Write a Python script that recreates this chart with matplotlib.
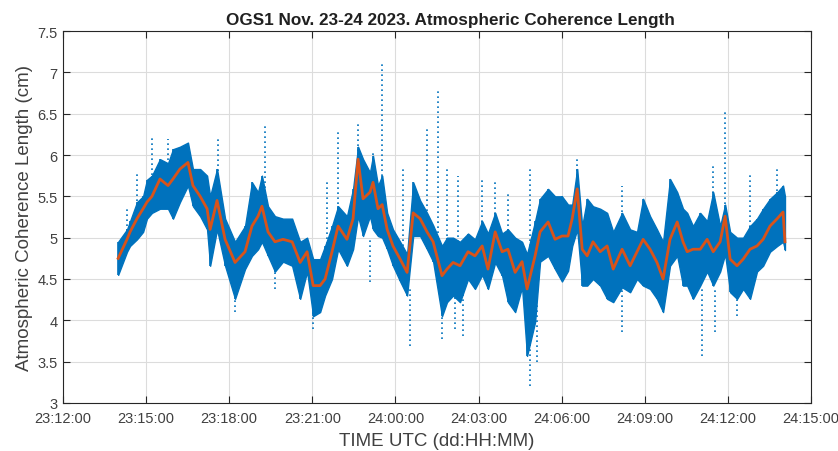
import matplotlib
matplotlib.use("Agg")
from matplotlib import pyplot as plt
from matplotlib.ticker import FuncFormatter, MultipleLocator
import numpy as np

# hours since 23 Nov 12:00 UTC
t_hr = [1.99, 2.31, 2.42, 2.67, 2.89, 3.03, 3.21, 3.50, 3.79, 3.97, 4.22, 4.51, 4.69, 4.95,
        5.20, 5.31, 5.56, 5.85, 6.21, 6.57, 6.82, 7.04, 7.18, 7.40, 7.65, 7.94, 8.27, 8.56,
        8.81, 9.03, 9.28, 9.46, 9.71, 9.93, 10.25, 10.47, 10.65, 10.83, 11.08, 11.19, 11.37,
        11.52, 11.70, 11.91, 12.17, 12.42, 12.64, 12.89, 13.14, 13.36, 13.68, 13.86, 14.08,
        14.33, 14.62, 14.87, 15.13, 15.34, 15.60, 15.85, 16.06, 16.32, 16.57, 16.75, 17.04,
        17.22, 17.51, 17.76, 18.01, 18.23, 18.38, 18.56, 18.74, 18.92, 19.13, 19.39, 19.64,
        19.86, 20.18, 20.47, 20.72, 20.94, 21.19, 21.44, 21.66, 21.91, 22.17, 22.38, 22.53,
        22.74, 23.00, 23.25, 23.47, 23.72, 23.90, 24.08, 24.33, 24.55, 24.80, 25.05, 25.27,
        25.52, 25.78, 25.99, 26.06]

# smoothed coherence length (orange)
r0_smooth = [4.75, 4.98, 5.07, 5.23, 5.35, 5.43, 5.50, 5.71, 5.63, 5.71, 5.83, 5.91, 5.63, 5.50,
             5.35, 5.10, 5.45, 4.98, 4.70, 4.83, 5.14, 5.26, 5.38, 5.07, 4.95, 4.98, 4.95, 4.70,
             4.83, 4.42, 4.42, 4.50, 4.83, 5.14, 4.98, 5.23, 5.95, 5.47, 5.55, 5.67, 5.35,
             5.40, 5.10, 4.90, 4.74, 4.58, 5.30, 5.23, 5.07, 4.95, 4.54, 4.62, 4.70,
             4.66, 4.83, 4.78, 4.90, 4.62, 5.07, 4.83, 4.86, 4.58, 4.71, 4.38, 4.78,
             5.07, 5.19, 4.98, 5.02, 5.02, 5.23, 5.59, 4.86, 4.78, 4.95, 4.83, 4.90,
             4.62, 4.86, 4.66, 4.83, 4.98, 4.86, 4.70, 4.50, 4.98, 5.19, 4.95, 4.83,
             4.86, 4.86, 4.98, 4.83, 4.95, 5.26, 4.74, 4.66, 4.74, 4.86, 4.90, 4.98,
             5.14, 5.23, 5.31, 4.95]

# raw samples: upper / lower envelope (blue)
r0_high = [4.95, 5.10, 5.20, 5.43, 5.50, 5.70, 5.75, 5.95, 5.90, 6.07, 6.10, 6.15, 5.83, 5.83,
           5.75, 5.50, 5.83, 5.23, 4.95, 5.14, 5.67, 5.55, 5.75, 5.38, 5.26, 5.23, 5.23, 4.95,
           5.00, 4.74, 4.74, 4.90, 5.14, 5.38, 5.26, 5.59, 6.10, 5.95, 5.79, 5.99, 5.63,
           5.75, 5.30, 5.10, 4.95, 4.80, 5.67, 5.45, 5.30, 5.15, 4.90, 5.00, 5.00,
           4.95, 5.05, 4.98, 5.20, 5.05, 5.30, 5.05, 5.10, 5.00, 4.95, 4.80, 5.20,
           5.47, 5.59, 5.50, 5.50, 5.40, 5.40, 5.83, 5.14, 5.47, 5.38, 5.35, 5.30,
           5.07, 5.30, 5.10, 5.07, 5.47, 5.26, 5.10, 4.95, 5.71, 5.55, 5.35, 5.30,
           5.14, 5.30, 5.20, 5.55, 5.14, 5.40, 5.07, 5.00, 5.00, 5.14, 5.23, 5.35,
           5.47, 5.55, 5.63, 5.50]
r0_low = [4.55, 4.83, 4.90, 4.98, 5.07, 5.23, 5.30, 5.35, 5.35, 5.23, 5.43, 5.63, 5.38, 5.26,
          5.10, 4.66, 5.10, 4.66, 4.26, 4.62, 4.78, 4.86, 4.95, 4.78, 4.59, 4.71, 4.66, 4.26,
          4.59, 4.05, 4.10, 4.30, 4.50, 4.86, 4.66, 4.86, 5.26, 5.02, 5.26, 5.10, 5.02,
          5.00, 4.86, 4.66, 4.47, 4.30, 5.02, 5.02, 4.86, 4.71, 4.05, 4.22, 4.30,
          4.22, 4.50, 4.38, 4.55, 4.38, 4.70, 4.54, 4.22, 4.10, 4.40, 3.57, 3.98,
          4.71, 4.78, 4.62, 4.47, 4.60, 4.90, 5.10, 4.42, 4.42, 4.50, 4.42, 4.26,
          4.22, 4.40, 4.34, 4.50, 4.42, 4.38, 4.26, 4.10, 4.66, 4.78, 4.42, 4.42,
          4.26, 4.42, 4.59, 4.42, 4.59, 4.80, 4.34, 4.26, 4.38, 4.26, 4.59, 4.66,
          4.83, 4.90, 4.95, 4.85]

# isolated outlier runs (time, low end, high end)
spike_t = [2.31, 2.67, 3.21, 3.79, 5.60, 6.21, 7.29, 7.65, 9.03, 9.53, 9.93, 10.65, 11.08,
           11.19, 11.52, 12.27, 12.53, 13.14, 13.54, 13.68, 13.86, 14.15, 14.26, 14.44,
           15.13, 15.60, 16.06, 16.86, 17.10, 18.56, 20.18, 21.95, 23.07, 23.47, 23.55,
           23.90, 24.33, 24.80, 25.78]
spike_lo = [4.90, 5.20, 5.40, 5.40, 5.20, 4.10, 5.30, 4.38, 3.90, 4.80, 5.10, 5.50, 4.46,
            5.40, 5.20, 4.90, 3.69, 4.90, 5.00, 3.77, 4.90, 3.90, 4.70, 3.81,
            4.70, 4.80, 4.60, 3.21, 3.50, 5.20, 3.86, 5.00, 3.57, 5.00, 3.86,
            4.80, 4.05, 4.70, 5.20]
spike_hi = [5.37, 5.80, 6.20, 6.19, 6.20, 4.70, 6.35, 4.80, 4.40, 5.71, 6.28, 6.41, 5.00,
            6.04, 7.12, 5.87, 4.40, 6.35, 6.78, 4.40, 5.87, 4.40, 5.75, 4.50,
            5.71, 5.67, 5.55, 5.83, 4.20, 5.95, 5.63, 5.71, 4.40, 5.87, 4.40,
            6.52, 4.40, 5.79, 5.87]

blue = "#0072BD"
orange = "#D95319"
ink = "#404040"

plt.rcParams["font.family"] = ["Liberation Sans", "DejaVu Sans"]

fig = plt.figure(figsize=(8.38, 4.52), dpi=100)
ax = fig.add_axes([0.0752, 0.1062, 0.8926, 0.8230])

ax.fill_between(t_hr, r0_low, r0_high, color=blue, lw=1.0, zorder=2)
ax.vlines(t_hr, r0_low, r0_high, color=blue, lw=1.2, zorder=2)
ax.vlines(spike_t, spike_lo, spike_hi, color=blue, lw=1.2, linestyles=(0, (1, 2)), zorder=2)
ax.plot(t_hr, r0_smooth, color=orange, lw=2.0, zorder=3)


def day_fmt(x, pos):
    total = int(round(x * 60)) + 12 * 60
    day = 23 + total // (24 * 60)
    hh = (total // 60) % 24
    mm = total % 60
    return "%d:%02d:%02d" % (day, hh, mm)


ax.set_xlim(0, 27)
ax.set_ylim(3, 7.5)
ax.xaxis.set_major_locator(MultipleLocator(3))
ax.xaxis.set_major_formatter(FuncFormatter(day_fmt))
ax.yaxis.set_major_locator(MultipleLocator(0.5))
ax.yaxis.set_major_formatter(FuncFormatter(lambda v, p: ("%g" % v)))
ax.grid(True, color="#dcdcdc", lw=0.8, zorder=0)
ax.set_axisbelow(True)
ax.tick_params(direction="in", top=True, right=True, length=5, color="#262626",
               labelcolor=ink)
ax.tick_params(axis="x", labelsize=10.5, pad=6)
ax.tick_params(axis="y", labelsize=10.5, pad=4)
for s in ax.spines.values():
    s.set_color("#262626")
    s.set_linewidth(0.8)

ax.set_title("OGS1 Nov. 23-24 2023. Atmospheric Coherence Length", fontsize=12.3,
             fontweight="bold", color="#202020", pad=5, x=0.518)
ax.set_xlabel("TIME UTC (dd:HH:MM)", fontsize=13.5, color=ink, labelpad=5)
ax.set_ylabel("Atmospheric Coherence Length (cm)", fontsize=13.5, color=ink, labelpad=3)

plt.savefig("out.png", dpi=100)
